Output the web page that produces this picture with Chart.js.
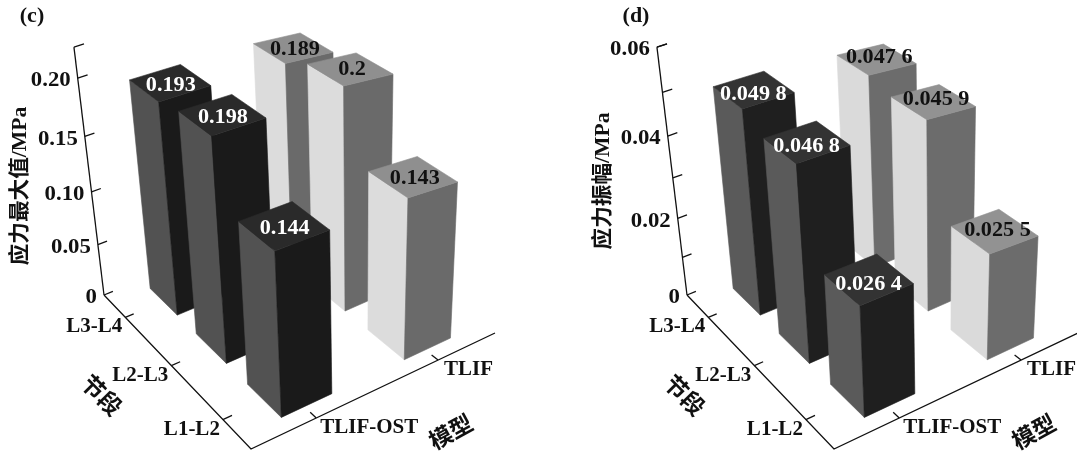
<!DOCTYPE html>
<html>
<head>
<meta charset="utf-8">
<title>3D bars</title>
<script src="https://cdn.jsdelivr.net/npm/chart.js@4"></script>
<style>
  html, body { margin: 0; padding: 0; background: #fff; }
  canvas { position: absolute; top: 0; }
</style>
</head>
<body>
<canvas id="chart-c" width="538" height="455" style="left:0"></canvas>
<canvas id="chart-d" width="539" height="455" style="left:538px"></canvas>
<script>
// rows run from the back of the floor to the front
const segments = ['L3-L4', 'L2-L3', 'L1-L2'];
const models = ['TLIF-OST', 'TLIF'];

const maxOst = [0.193, 0.198, 0.144];
const maxTlif = [0.189, 0.2, 0.143];
const ampOst = [0.0498, 0.0468, 0.0264];
const ampTlif = [0.0476, 0.0459, 0.0255];

const maxTicks = [0, 0.05, 0.1, 0.15, 0.2];
const maxTickLabels = ['0', '0.05', '0.10', '0.15', '0.20'];
const ampTicks = [0, 0.01, 0.02, 0.03, 0.04, 0.05, 0.06];
const ampTickLabels = ['0', '', '0.02', '', '0.04', '', '0.06'];

const facesC = [
  { left: '#525252', right: '#1a1a1a', top: '#2a2a2a', text: '#fff' },
  { left: '#dcdcdc', right: '#6a6a6a', top: '#8f8f8f', text: '#111' }
];
const facesD = [
  { left: '#5a5a5a', right: '#1f1f1f', top: '#333333', text: '#fff' },
  { left: '#dadada', right: '#6c6c6c', top: '#929292', text: '#111' }
];

const SERIF = '"Liberation Serif","Noto Sans CJK SC"';

// floor homography (unit square to quad) plus a vanishing point for the verticals
function makeProjection(dx, axisMax) {
  const [x0, y0, x1, y1, x2, y2, x3, y3] = [104 + dx, 295, 324 + dx, 207, 495 + dx, 333, 251 + dx, 449];
  const d1x = x1 - x2, d2x = x3 - x2, sx = x0 - x1 + x2 - x3;
  const d1y = y1 - y2, d2y = y3 - y2, sy = y0 - y1 + y2 - y3;
  const den = d1x * d2y - d2x * d1y;
  const g = (sx * d2y - d2x * sy) / den;
  const h = (d1x * sy - sx * d1y) / den;
  const a = x1 - x0 + g * x1, b = x3 - x0 + h * x3;
  const d = y1 - y0 + g * y1, e = y3 - y0 + h * y3;
  const vx = 358 + dx, vy = 2390, k = 0.1058 / axisMax;
  // sag flattens the top face a little towards its right corner
  return (u, v, val, sag = 0) => {
    const s = u / 2, t = v / 3;
    const W = g * s + h * t + 1;
    const gx = (a * s + b * t + x0) / W, gy = (d * s + e * t + y0) / W;
    const m = k * val / (W + sag);
    return {
      x: (gx - m * vx) / (1 - m),
      y: (gy - m * vy) / (1 - m)
    };
  };
}

function poly(points, color) {
  return {
    data: [...points, points[0]], showLine: true, fill: 'shape',
    backgroundColor: color, borderColor: color, borderWidth: 0.6, pointRadius: 0, tension: 0
  };
}

function rule(points, width) {
  return {
    data: points, showLine: true, fill: false,
    borderColor: '#111', borderWidth: width || 1.3, pointRadius: 0, tension: 0
  };
}

function drawPanel(id, cfg) {
  const P = makeProjection(cfg.dx, cfg.axisMax);
  const uTick = [0.5, 1.5];
  const uBar = [0.52, 1.52];
  const vBar = [0.5, 1.5, 2.5];
  const vTick = [0.5, 1.5, 2.5];
  const du = 0.2, dv = 0.3;
  const sag = [0.006, 0.024];
  const sets = [];
  const labels = [];

  // axes
  sets.push(rule([P(0, 0, 0), P(0, 0, cfg.axisMax)]));
  sets.push(rule([P(0, 0, 0), P(0, 3, 0), P(2, 3, 0)]));
  cfg.ticks.forEach(t => sets.push(rule([P(0, 0, t), P(0.075, 0, t)])));
  sets.push(rule([P(0, 0, cfg.axisMax), P(0.075, 0, cfg.axisMax)]));
  vTick.forEach(v => sets.push(rule([P(0, v, 0), P(0.07, v, 0)])));
  uTick.forEach(u => sets.push(rule([P(u, 3, 0), P(u, 2.9, 0)])));

  // far model first, back row first
  [1, 0].forEach(m => {
    cfg.series[m].forEach((val, r) => {
      const u0 = uBar[m] - du, u1 = uBar[m] + du;
      const v0 = vBar[r] - dv, v1 = vBar[r] + dv;
      const f = cfg.faces[m];
      const topRight = P(u1, v1, val, sag[m]), topBack = P(u1, v0, val, sag[m]);
      sets.push(poly([P(u0, v0, 0), P(u0, v1, 0), P(u0, v1, val), P(u0, v0, val)], f.left));
      sets.push(poly([P(u0, v1, 0), P(u1, v1, 0), topRight, P(u0, v1, val)], f.right));
      sets.push(poly([P(u0, v0, val), P(u0, v1, val), topRight, topBack], f.top));
      const c = P(uBar[m], vBar[r], val);
      labels.push({ x: c.x + cfg.labelShift[m][0], y: c.y + cfg.labelShift[m][1], text: cfg.format(val), color: f.text });
    });
  });

  // later entries paint over earlier ones
  sets.forEach((s, i) => { s.order = -i; });

  const textPlugin = {
    id: 'panelText',
    afterDatasetsDraw(chart) {
      const { ctx, scales } = chart;
      const put = (text, x, y, font, stretch, align, color, rot) => {
        ctx.save();
        ctx.translate(scales.x.getPixelForValue(x), scales.y.getPixelForValue(y));
        if (rot) ctx.rotate(rot);
        ctx.scale(stretch, 1);
        ctx.font = font;
        ctx.fillStyle = color || '#111';
        ctx.textAlign = align || 'center';
        ctx.textBaseline = 'middle';
        ctx.fillText(text, 0, 0);
        ctx.restore();
      };
      const font20 = `bold 20px ${SERIF}`;
      cfg.ticks.forEach((t, i) => {
        const p = P(0, 0, t);
        put(cfg.tickLabels[i], p.x - 7, p.y + 3, font20, 1.14, 'right');
      });
      segments.forEach((s, i) => {
        const p = P(0, vTick[i], 0);
        put(s, p.x - 3, p.y + 10, font20, 1.05, 'right');
      });
      models.forEach((s, i) => {
        const p = P(uTick[i], 3, 0);
        put(s, p.x + (i ? 6 : 4), p.y + 10, font20, 1.05, 'left');
      });
      labels.forEach(l => put(l.text, l.x, l.y, font20, 1.11, 'center', l.color));
      put(cfg.title, cfg.titleX, 17, font20, 1.1);
      put(cfg.yTitle, cfg.dx + 21, cfg.yTitleAt, `bold 21px ${SERIF}`, 1.03, 'center', '#111', -Math.PI / 2);
      put('节段', cfg.dx + 100, 397, `bold 23px ${SERIF}`, 1, 'center', '#111', Math.PI / 4);
      put('模型', cfg.dx + 452, 434, `bold 23px ${SERIF}`, 1, 'center', '#111', -0.5);
    }
  };

  new Chart(document.getElementById(id), {
    type: 'scatter',
    data: { datasets: sets },
    plugins: [textPlugin],
    options: {
      responsive: false,
      animation: false,
      layout: { padding: 0 },
      plugins: { legend: { display: false }, tooltip: { enabled: false } },
      scales: {
        x: { type: 'linear', display: false, min: cfg.xMin, max: cfg.xMax },
        y: { type: 'linear', display: false, min: 0, max: 455, reverse: true }
      }
    }
  });
}

drawPanel('chart-c', {
  dx: 0, xMin: 0, xMax: 538, axisMax: 0.2256, faces: facesC,
  series: [maxOst, maxTlif], ticks: maxTicks, tickLabels: maxTickLabels,
  labelShift: [[1, 4], [2, 4]],
  format: v => String(v), title: '(c)', titleX: 32,
  yTitle: '应力最大值/MPa', yTitleAt: 186
});

drawPanel('chart-d', {
  dx: 583, xMin: 538, xMax: 1077, axisMax: 0.06, faces: facesD,
  series: [ampOst, ampTlif], ticks: ampTicks, tickLabels: ampTickLabels,
  labelShift: [[0, 6], [3, 1]],
  format: v => { const s = v.toFixed(4); return s.slice(0, 5) + ' ' + s.slice(5); },
  title: '(d)', titleX: 636,
  yTitle: '应力振幅/MPa', yTitleAt: 181
});
</script>
</body>
</html>
